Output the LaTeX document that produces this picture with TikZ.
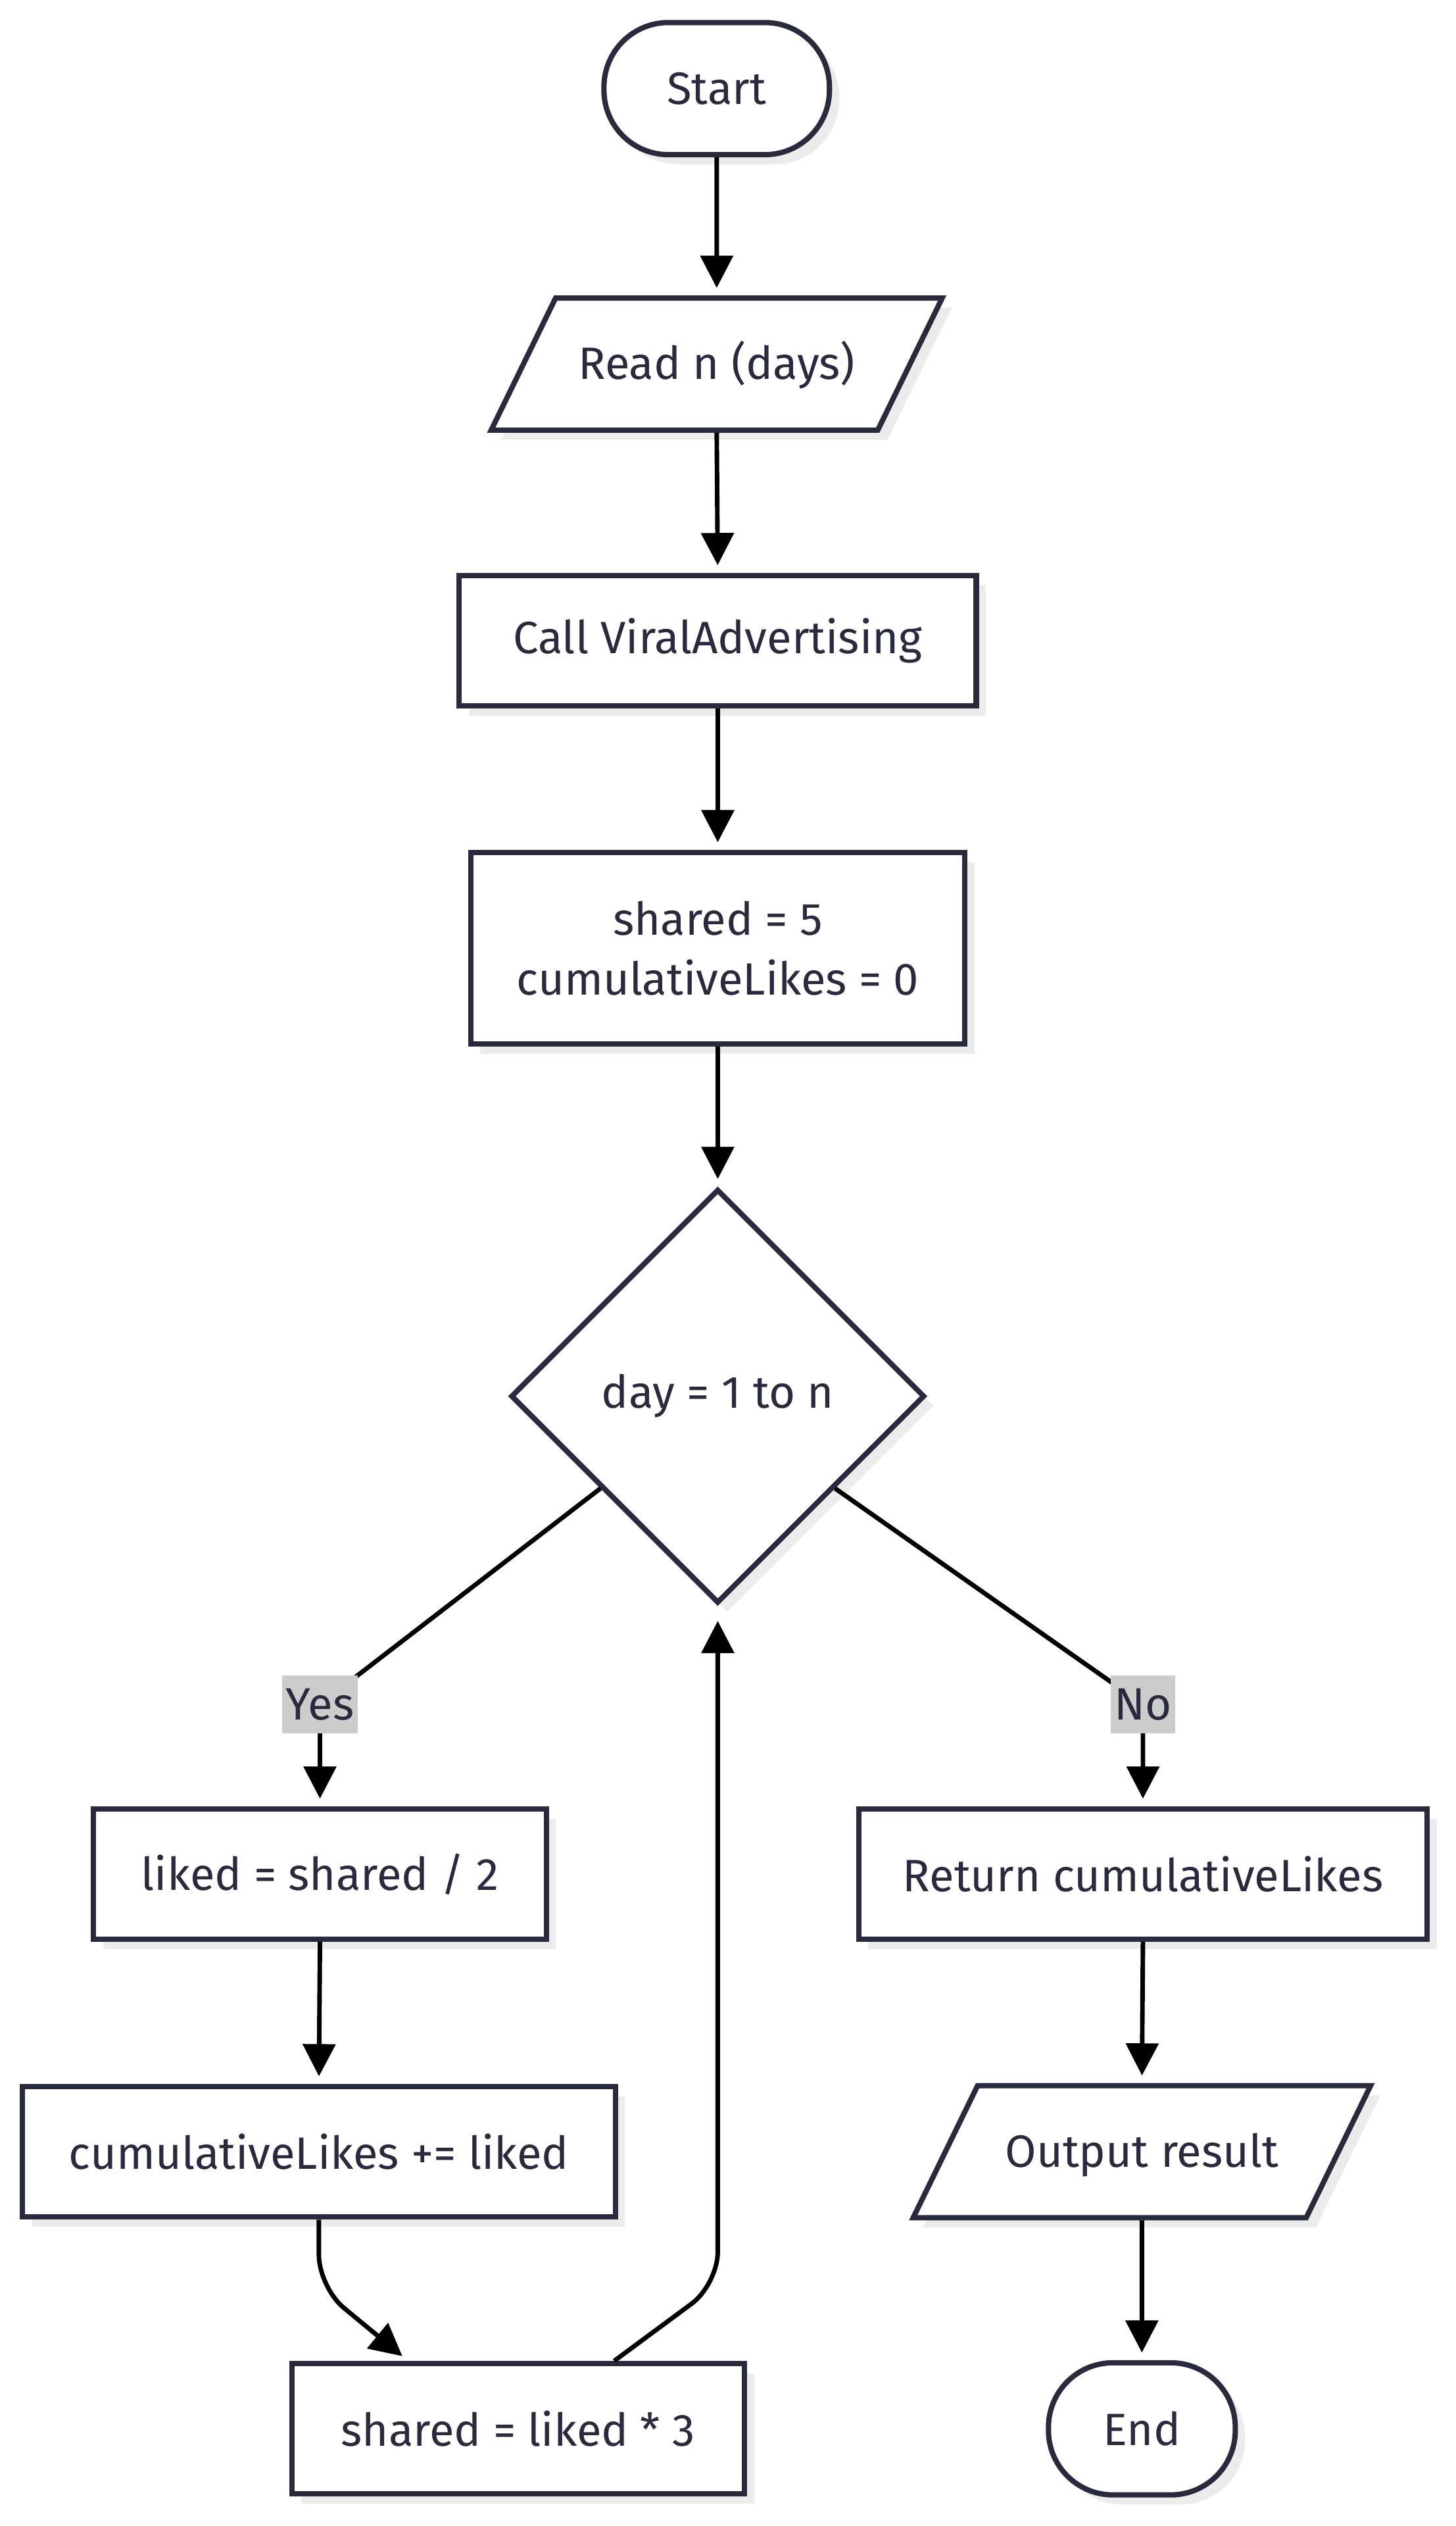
\documentclass[tikz,border=0pt]{standalone}
\usepackage{fontspec}
\setmainfont{Fira Sans}
\usetikzlibrary{shapes.geometric, arrows.meta, calc, shadows}

\definecolor{ink}{RGB}{42,42,62}
\definecolor{tag}{RGB}{204,204,204}
\definecolor{shade}{RGB}{236,236,236}

\begin{document}
\begin{tikzpicture}[x=1cm, y=-1cm,
    every node/.style={font=\fontsize{24}{32}\selectfont, text=ink},
    base/.style={draw=ink, line width=2.8pt, fill=white, drop shadow={shadow xshift=0.18cm, shadow yshift=-0.18cm, fill=shade, opacity=1}},
    proc/.style={base, rectangle, minimum height=2.43cm},
    term/.style={base, rectangle, rounded corners=1.2cm, minimum height=2.46cm},
    io/.style={base, trapezium, trapezium left angle=64, trapezium right angle=116, trapezium stretches body, text height=19.6pt, text depth=3.4pt, inner ysep=0.825cm},
    test/.style={base, diamond, minimum width=7.71cm, minimum height=7.71cm, inner sep=0pt},
    lbl/.style={fill=tag, inner xsep=2pt, minimum height=1.08cm},
    arr/.style={line width=2.4pt, -{Triangle[width=0.6cm, length=0.6cm]}, shorten >=4pt}]
    \fill[white] (0,0) rectangle (27.12,47.04);
    \useasboundingbox (0,0) rectangle (27.12,47.04);
    \node[term, minimum width=4.2cm] (start) at (13.35,1.65) {Start};
    \node[io, minimum width=8.4cm] (read) at (13.35,6.78) {Read n (days)};
    \node[proc, minimum width=9.63cm] (call) at (13.37,11.93) {Call ViralAdvertising};
    \node[proc, minimum width=9.21cm, minimum height=3.57cm, align=center] (init) at (13.37,17.66) {shared = 5\\cumulativeLikes = 0};
    \node[test] (dia) at (13.37,26.0) {day = 1 to n};
    \node[proc, minimum width=8.43cm] (liked) at (5.96,34.9) {liked = shared / 2};
    \node[proc, minimum width=11.04cm] (cum) at (5.94,40.07) {cumulativeLikes += liked};
    \node[proc, minimum width=8.43cm] (triple) at (9.65,45.23) {shared = liked * 3};
    \node[proc, minimum width=10.59cm] (ret) at (21.29,34.9) {Return cumulativeLikes};
    \node[io, minimum width=8.52cm] (out) at (21.27,40.07) {Output result};
    \node[term, minimum width=3.48cm] (stop) at (21.27,45.23) {End};
    \foreach \a/\b in {start/read, read/call, call/init, init/dia, liked/cum, ret/out, out/stop}
        \draw[arr] (\a.south) -- (\b.north);
    \coordinate (yes) at (5.96,31.74);
    \coordinate (no) at (21.29,31.74);
    \draw[arr] ($(dia.west)!0.44!(dia.south)$) -- (yes) node[lbl] {Yes} -- (liked.north);
    \draw[arr] ($(dia.east)!0.44!(dia.south)$) -- (no) node[lbl] {No} -- (ret.north);
    \draw[arr, rounded corners=0.6cm] (cum.south) -- ++(0,1.26) -- ($(triple.north west)!0.26!(triple.north east)$);
    \draw[arr, rounded corners=0.6cm, shorten >=8pt] ($(triple.north west)!0.71!(triple.north east)$) -- (13.37,42.54) -- (dia.south);
\end{tikzpicture}
\end{document}
